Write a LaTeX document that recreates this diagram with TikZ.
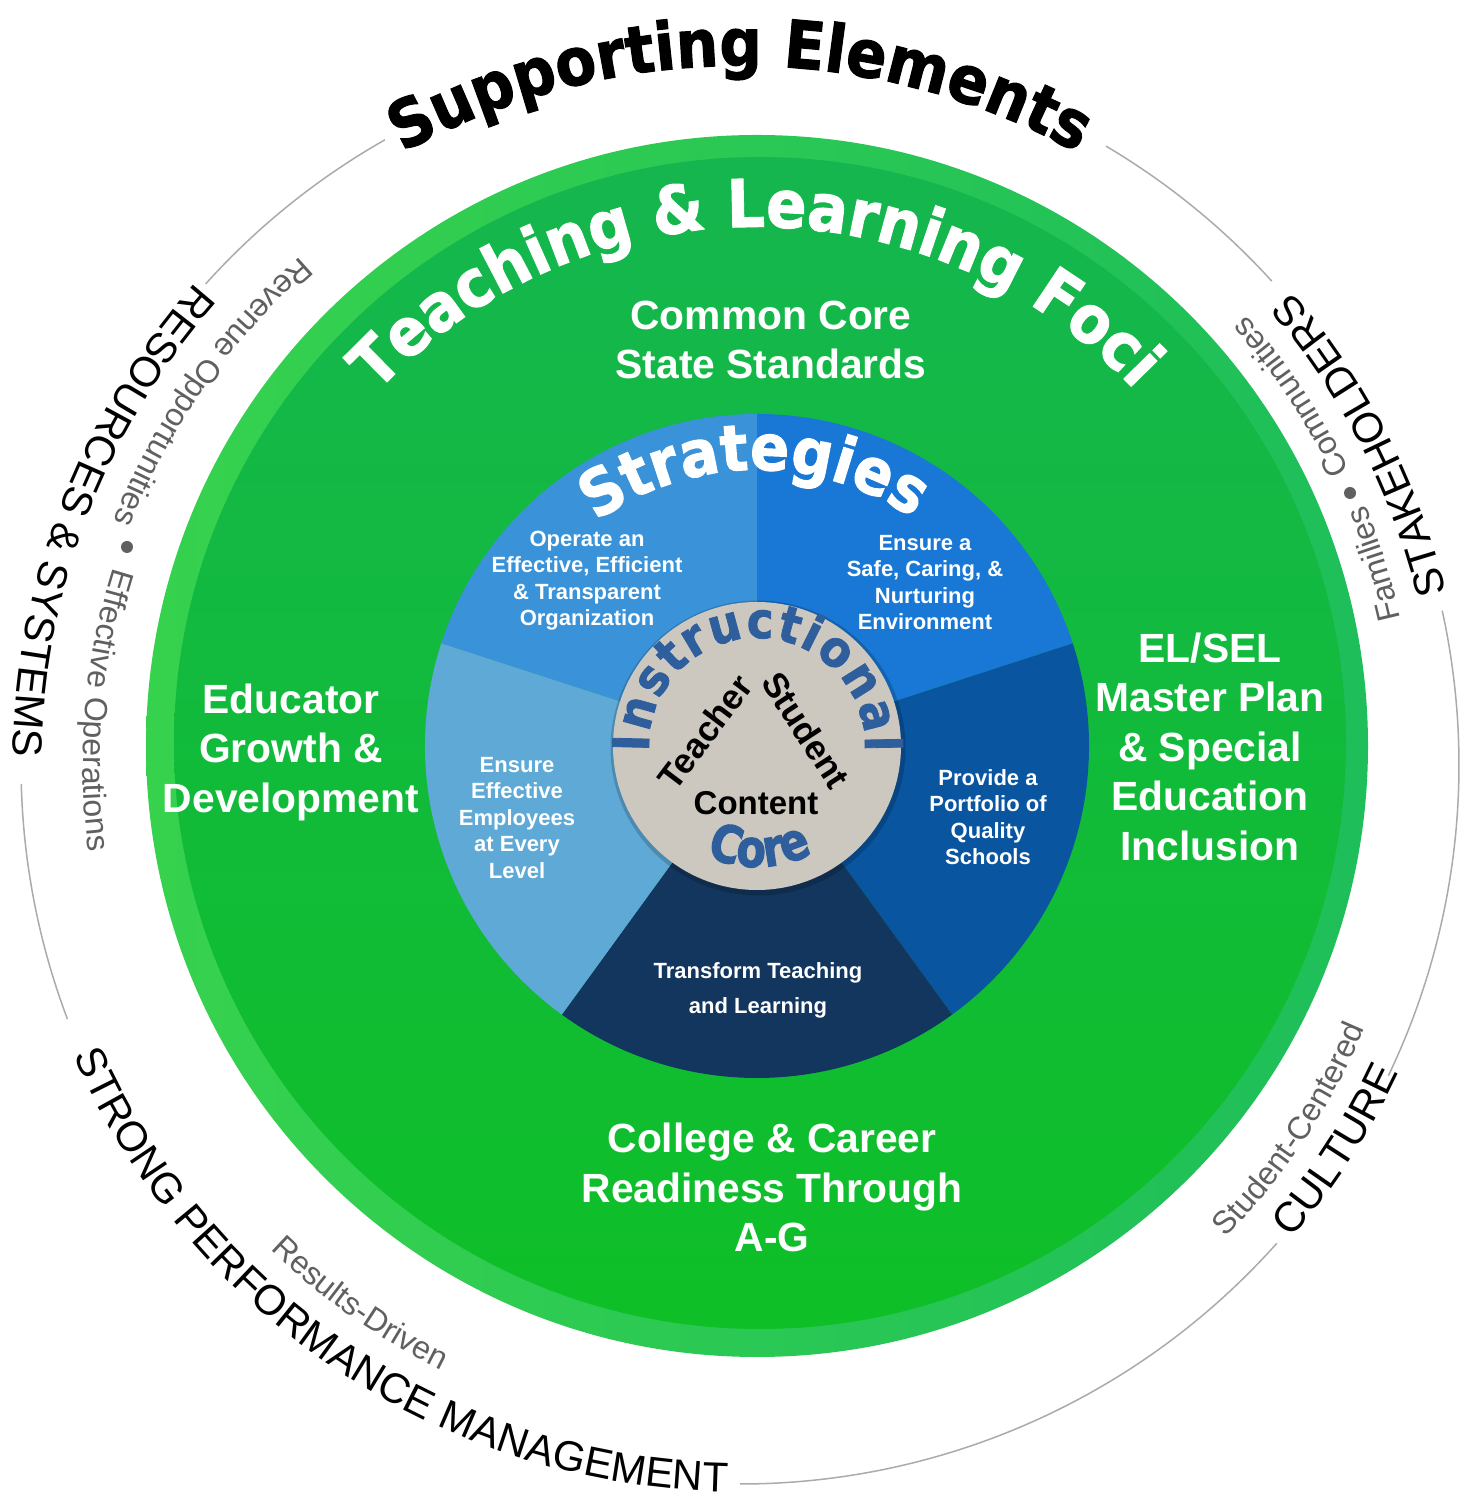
\documentclass[tikz,border=0pt]{standalone}
\usepackage{fontspec}
\setmainfont{Liberation Sans}
\newfontfamily\blk{DejaVu Sans}[FakeStretch=0.9,FakeBold=1.6]
\newfontfamily\blkn{DejaVu Sans}[FakeStretch=0.82,FakeBold=2]
\usetikzlibrary{decorations.text}
\definecolor{ringgrey}{HTML}{ABABAB}
\definecolor{subgrey}{HTML}{606060}
\definecolor{sliceA}{HTML}{3A93D8}
\definecolor{sliceB}{HTML}{1978D5}
\definecolor{sliceC}{HTML}{0A55A0}
\definecolor{sliceD}{HTML}{13365E}
\definecolor{sliceE}{HTML}{5EA9D6}
\definecolor{coregrey}{HTML}{CCC8BF}
\definecolor{coreblue}{HTML}{2E5E9C}
\definecolor{rimL}{HTML}{36D24E}
\definecolor{rimR}{HTML}{1EBE5A}
\definecolor{inT}{HTML}{15B64F}
\definecolor{inB}{HTML}{0EBF27}
% [decoration opts]{center}{radius}{start}{end}{format}{text}
\newcommand{\arctext}[7][]{%
  \path[decorate,decoration={text along path,text align=center,#1,text={|#6|#7}}]
    (#2) ++(#4:#3) arc[start angle=#4,end angle=#5,radius=#3];}
\tikzset{
  ringline/.style={draw=ringgrey,line width=0.75pt},
  greentxt/.style={text=white,align=center,inner sep=0pt,font=\bfseries\fontsize{20.4}{24.75}\selectfont},
  slicetxt/.style={text=white,align=center,inner sep=0pt,font=\bfseries\fontsize{11}{13.25}\selectfont},
  coretxt/.style={text=black,inner sep=0pt,font=\bfseries\fontsize{17.5}{17.5}\selectfont},
}
\begin{document}
\begin{tikzpicture}[x=0.5pt,y=0.5pt]
\useasboundingbox (0,0) rectangle (1466,1499);
\fill[white] (0,0) rectangle (1466,1499);
\coordinate (G) at (757,753);
\coordinate (O) at (740,734);
% outer thin ring (interrupted by labels)
\foreach \a/\b in {42.3/59.4,119.6/138,181.5/200.7,270/318.3,334.4/372.4}
  \draw[ringline] (O) ++(\a:719) arc[start angle=\a,end angle=\b,radius=719];
% green disc
\shade[left color=rimL,right color=rimR] (G) circle[radius=611];
\shade[top color=inT,bottom color=inB] (760,756) circle[radius=586];
% strategy pie
\fill[sliceA] (G) -- ++(90:332) arc[start angle=90,end angle=162,radius=332] -- cycle;
\fill[sliceB] (G) -- ++(18:332) arc[start angle=18,end angle=90,radius=332] -- cycle;
\fill[sliceC] (G) -- ++(-54:332) arc[start angle=-54,end angle=18,radius=332] -- cycle;
\fill[sliceD] (G) -- ++(-126:332) arc[start angle=-126,end angle=-54,radius=332] -- cycle;
\fill[sliceE] (G) -- ++(162:332) arc[start angle=162,end angle=234,radius=332] -- cycle;
% core
\fill[black,opacity=0.18] (758,751) circle[radius=147.5];
\fill[coregrey] (G) circle[radius=144];
% curved titles
\arctext[text color=black]{O}{699}{150}{30}{\blk\bfseries\fontsize{33}{33}\selectfont}{Supporting Elements}
\arctext[text color=white]{G}{519}{160.2}{20.2}{\blk\bfseries\fontsize{33}{33}\selectfont}{Teaching {\&} Learning Foci}
\arctext[text color=white]{G}{276}{160.6}{20.6}{\blk\bfseries\fontsize{32}{32}\selectfont}{Strategies}
\arctext[text color=coreblue,text align=fit to path]{G}{108}{183}{-3}{\blk\bfseries\fontsize{25}{25}\selectfont}{Instructional}
\arctext[text color=coreblue]{G}{121}{211.3}{331.3}{\blkn\bfseries\fontsize{26}{26}\selectfont}{Core}
% outer ring main labels
\arctext[text color=black]{O}{727}{113.9}{203.9}{\fontsize{21}{21}\selectfont}{RESOURCES {\&} SYSTEMS}
\arctext[text color=black]{O}{727}{186.3}{286.3}{\fontsize{21}{21}\selectfont}{STRONG PERFORMANCE MANAGEMENT}
\arctext[text color=black]{O}{727}{-62.85}{-2.85}{\fontsize{21}{21}\selectfont}{CULTURE}
\arctext[text color=black]{O}{727}{-12.85}{67.15}{\fontsize{21}{21}\selectfont}{STAKEHOLDERS}
% outer ring sub labels
\arctext[text color=subgrey]{O}{672}{114.75}{174.75}{\fontsize{16}{16}\selectfont}{Revenue Opportunities}
\arctext[text color=subgrey]{O}{657}{145.05}{205.05}{\fontsize{16}{16}\selectfont}{Effective Operations}
\arctext[text color=subgrey]{O}{675}{204.8}{264.8}{\fontsize{16}{16}\selectfont}{Results-Driven}
\arctext[text color=subgrey]{O}{678}{-63.55}{-3.55}{\fontsize{16}{16}\selectfont}{Student-Centered}
\arctext[text color=subgrey]{O}{677}{-12.45}{47.55}{\fontsize{16}{16}\selectfont}{Families}
\arctext[text color=subgrey]{O}{677}{3.7}{63.7}{\fontsize{16}{16}\selectfont}{Communities}
\fill[subgrey] (127,952) circle[radius=6];
\fill[subgrey] (1350,1006) circle[radius=6];
% green focus texts
\node[greentxt] (ccss) at (771,1159) {Common Core\\State Standards};
\node[greentxt] (egd) at (291,747) {Educator\\Growth \&\\Development};
\node[greentxt] (elsel) at (1210,752.5) {EL/SEL\\Master Plan\\\& Special\\Education\\Inclusion};
\node[greentxt] (ccr) at (772,311.5) {College \& Career\\Readiness Through\\A-G};
% strategy texts
\node[slicetxt] (s1) at (587,918.5) {Operate an\\Effective, Efficient\\\& Transparent\\Organization};
\node[slicetxt] (s2) at (925,916.5) {Ensure a\\Safe, Caring, \&\\Nurturing\\Environment};
\node[slicetxt] (s3) at (517,681) {Ensure\\Effective\\Employees\\at Every\\Level};
\node[slicetxt] (s4) at (988,682) {Provide a\\Portfolio of\\Quality\\Schools};
\node[slicetxt,font=\bfseries\fontsize{11}{17.5}\selectfont] (s5) at (758,508.5) {Transform Teaching\\and Learning};
% core texts
\node[coretxt,rotate=53] (teacher) at (705,767) {Teacher};
\node[coretxt,rotate=-57] (student) at (806,769) {Student};
\node[coretxt,font=\bfseries\fontsize{16.5}{16.5}\selectfont] (content) at (756,696) {Content};
\end{tikzpicture}
\end{document}
